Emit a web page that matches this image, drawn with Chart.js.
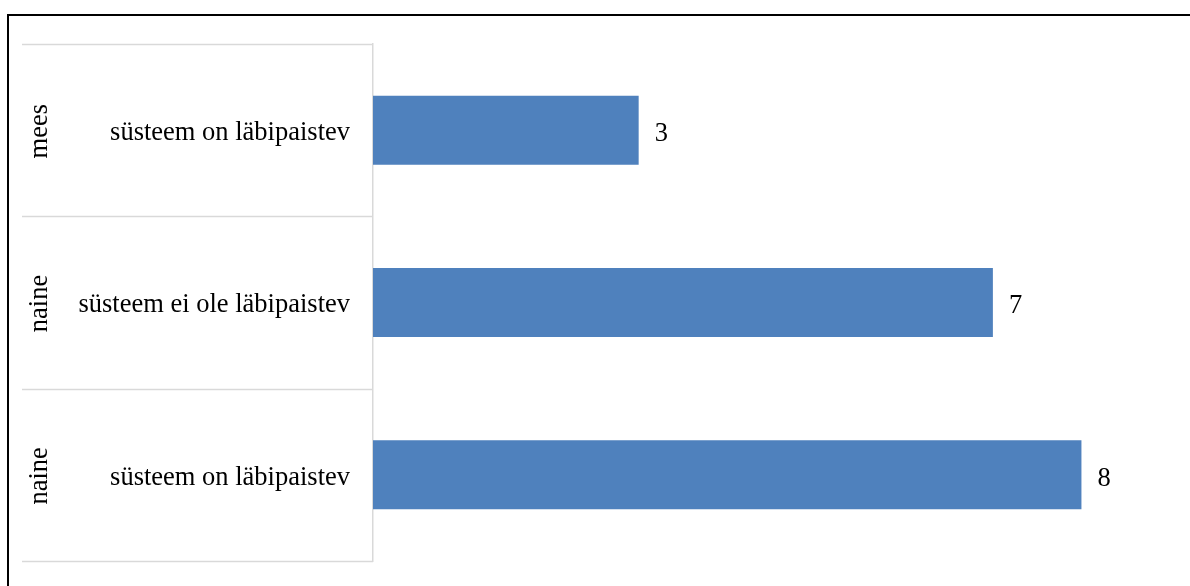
<!DOCTYPE html>
<html>
<head>
<meta charset="utf-8">
<script src="https://cdn.jsdelivr.net/npm/chart.js@4/dist/chart.umd.min.js"></script>
<style>
  html, body { margin: 0; padding: 0; background: #fff; }
  #wrap { position: relative; width: 1190px; height: 586px; overflow: hidden; }
  #frame { position: absolute; left: 7px; top: 14px; width: 1200px; height: 600px;
           border-top: 2px solid #000; border-left: 2px solid #000; box-sizing: border-box; }
  canvas { position: absolute; left: 0; top: 0; }
</style>
</head>
<body>
<div id="wrap">
  <div id="frame"></div>
  <canvas id="grafico" width="1190" height="586"></canvas>
</div>
<script>
// andmed
const grupid = ['mees', 'naine', 'naine'];
const vastused = ['süsteem on läbipaistev', 'süsteem ei ole läbipaistev', 'süsteem on läbipaistev'];
const vaartused = [3, 7, 8];

const font = "'Liberation Serif', 'Times New Roman', serif";
const gridVarv = '#d9d9d9';

// grupi nimed ja jooned sildi alal
const sildiPlugin = {
    id: 'sildid',
    afterDraw(chart) {
        const ctx = chart.ctx;
        const y = chart.scales.y;
        const area = chart.chartArea;
        const vasak = 22;
        const samm = y.getPixelForTick(1) - y.getPixelForTick(0);
        ctx.save();
        ctx.strokeStyle = gridVarv;
        ctx.lineWidth = 1.5;
        for (let i = 0; i <= grupid.length; i++) {
            let py;
            if (i < grupid.length) py = y.getPixelForTick(i) - samm / 2;
            else py = y.getPixelForTick(i - 1) + samm / 2;
            py = Math.round(py) + 0.5;
            ctx.beginPath();
            ctx.moveTo(vasak, py);
            ctx.lineTo(area.left, py);
            ctx.stroke();
        }
        ctx.fillStyle = '#000';
        ctx.font = '26.5px ' + font;
        ctx.textAlign = 'center';
        ctx.textBaseline = 'middle';
        for (let i = 0; i < grupid.length; i++) {
            ctx.save();
            ctx.translate(40, y.getPixelForTick(i) + 1);
            ctx.rotate(-Math.PI / 2);
            ctx.fillText(grupid[i], 0, 0);
            ctx.restore();
        }
        // väärtused tulpade otsas
        const meta = chart.getDatasetMeta(0);
        ctx.textAlign = 'left';
        meta.data.forEach(function (bar, i) {
            ctx.fillText(String(vaartused[i]), bar.x + 16, bar.y + 4);
        });
        ctx.restore();
    }
};

const config = {
    type: 'bar',
    data: {
        labels: vastused,
        datasets: [{
            data: vaartused,
            backgroundColor: '#4f81bd',
            borderWidth: 0,
            barPercentage: 0.4,
            categoryPercentage: 1
        }]
    },
    options: {
        indexAxis: 'y',
        responsive: false,
        animation: false,
        layout: { padding: { top: 44, bottom: 25, left: 22, right: 20 } },
        plugins: { legend: { display: false }, tooltip: { enabled: false } },
        scales: {
            x: {
                min: 0, max: 9,
                display: false
            },
            y: {
                offset: true,
                grid: { display: true, drawOnChartArea: false, drawTicks: false, color: 'rgba(0,0,0,0)' },
                border: { display: true, color: gridVarv, width: 1.5 },
                ticks: { color: '#000', padding: 23, labelOffset: 3, font: { family: font, size: 26.5 } },
                afterFit: function (scale) {
                    scale.width = 351;
                    scale.paddingTop = 0;
                    scale.paddingBottom = 0;
                }
            }
        }
    },
    plugins: [sildiPlugin]
};

var ctx = document.getElementById('grafico').getContext('2d');
let myChart = new Chart(ctx, config);
</script>
</body>
</html>
